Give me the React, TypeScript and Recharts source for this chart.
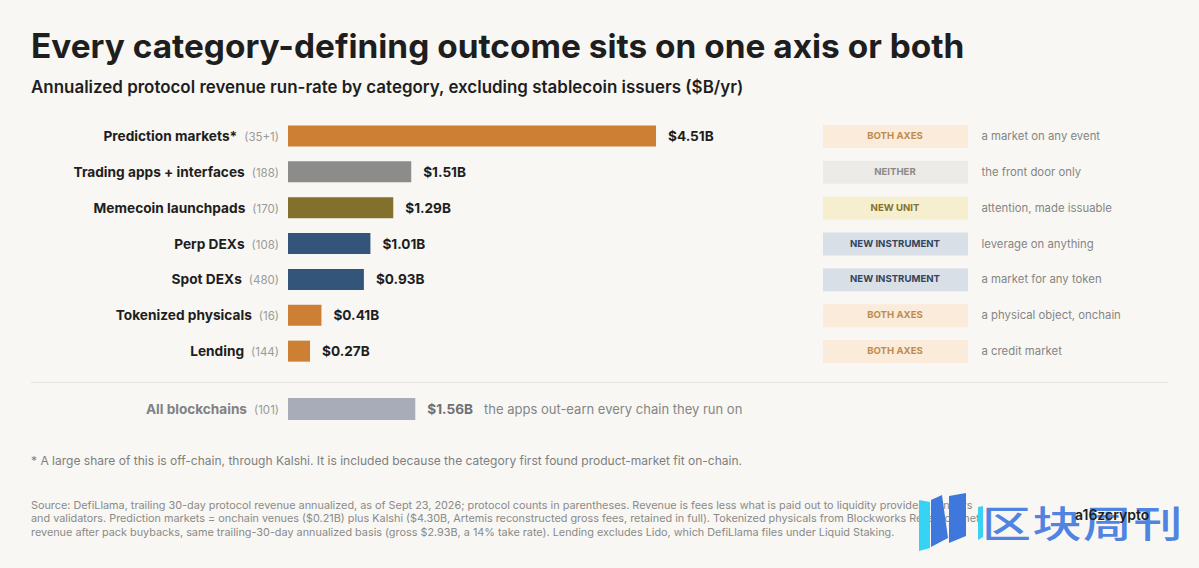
import { BarChart, Bar, XAxis, YAxis, Cell, LabelList } from "recharts";

const categories = ["Prediction markets*", "Trading apps + interfaces", "Memecoin launchpads", "Perp DEXs", "Spot DEXs", "Tokenized physicals", "Lending"];
const counts = ["(35+1)", "(188)", "(170)", "(108)", "(480)", "(16)", "(144)"];
const revenue = [4.51, 1.51, 1.29, 1.01, 0.93, 0.41, 0.27];
const groups = ["BOTH AXES", "NEITHER", "NEW UNIT", "NEW INSTRUMENT", "NEW INSTRUMENT", "BOTH AXES", "BOTH AXES"];
const notes = ["a market on any event", "the front door only", "attention, made issuable", "leverage on anything", "a market for any token", "a physical object, onchain", "a credit market"];

const chainCategory = ["All blockchains"];
const chainCounts = ["(101)"];
const chainRevenue = [1.56];

const sourceLines = [
  "Source: DefiLlama, trailing 30-day protocol revenue annualized, as of Sept 23, 2026; protocol counts in parentheses. Revenue is fees less what is paid out to liquidity providers, lenders",
  "and validators. Prediction markets = onchain venues ($0.21B) plus Kalshi ($4.30B, Artemis reconstructed gross fees, retained in full). Tokenized physicals from Blockworks Research, net",
  "revenue after pack buybacks, same trailing-30-day annualized basis (gross $2.93B, a 14% take rate). Lending excludes Lido, which DefiLlama files under Liquid Staking.",
];

const groupStyles: Record<string, { bar: string; bg: string; text: string }> = {
  "BOTH AXES": { bar: "#CD7F34", bg: "#FAEBDA", text: "#C08C4E" },
  NEITHER: { bar: "#8C8C8A", bg: "#ECEBE8", text: "#8A8A88" },
  "NEW UNIT": { bar: "#83702C", bg: "#F6EFCF", text: "#85722C" },
  "NEW INSTRUMENT": { bar: "#34557A", bg: "#D9DFE6", text: "#33445C" },
};

const font = "Inter, sans-serif";
const rows = categories.map((name, i) => ({ name, value: revenue[i] }));
const chainRows = chainCategory.map((name, i) => ({ name, value: chainRevenue[i] }));

function RowTick({ x, y, payload, index }: any) {
  const group = groups[index];
  const st = groupStyles[group];
  return (
    <g fontFamily={font}>
      <text x={x} y={y + 5} textAnchor="end">
        <tspan fontSize={13.7} fontWeight={700} fill="#1E1E1E">{payload.value}</tspan>
        <tspan dx={7} fontSize={11.5} fill="#9A9A98">{counts[index]}</tspan>
      </text>
      <rect x={823} y={y - 11} width={145} height={23} fill={st.bg} />
      <text x={895} y={y + 3} textAnchor="middle" fontSize={9.6} fontWeight={700} fill={st.text}>{group}</text>
      <text x={981.5} y={y + 4} fontSize={11.35} fill="#858583">{notes[index]}</text>
    </g>
  );
}

function ChainTick({ x, y, payload, index }: any) {
  return (
    <text x={x} y={y + 5} textAnchor="end" fontFamily={font}>
      <tspan fontSize={13.6} fontWeight={700} fill="#7F8285">{payload.value}</tspan>
      <tspan dx={7} fontSize={11.5} fill="#9A9A98">{chainCounts[index]}</tspan>
    </text>
  );
}

function ValueLabel({ x, y, width, height, value }: any) {
  return (
    <text x={x + width + 12} y={y + height / 2 + 5} fontFamily={font} fontSize={13.6} fontWeight={700} fill="#1E1E1E">
      {"$" + value.toFixed(2) + "B"}
    </text>
  );
}

function ChainLabel({ x, y, width, height, value }: any) {
  return (
    <text x={x + width + 12} y={y + height / 2 + 5} fontFamily={font}>
      <tspan fontSize={13.6} fontWeight={700} fill="#6F7174">{"$" + value.toFixed(2) + "B"}</tspan>
      <tspan x={484} fontSize={13} fill="#858583">the apps out-earn every chain they run on</tspan>
    </text>
  );
}

const abs = (left: number, top: number, extra: any) => ({
  position: "absolute" as const,
  left,
  top,
  whiteSpace: "nowrap" as const,
  fontFamily: font,
  ...extra,
});

export default function App() {
  return (
    <div style={{ position: "fixed", left: 0, top: 0, width: 1199, height: 568, background: "#F8F7F4", overflow: "hidden" }}>
      <div style={abs(31, 24, { fontSize: 33.4, lineHeight: "44px", fontWeight: 700, color: "#1E1E1E" })}>
        Every category-defining outcome sits on one axis or both
      </div>
      <div style={abs(31, 76, { fontSize: 16.95, lineHeight: "22px", fontWeight: 600, color: "#1E1E1E" })}>
        Annualized protocol revenue run-rate by category, excluding stablecoin issuers ($B/yr)
      </div>

      <div style={{ position: "absolute", left: 0, top: 118 }}>
        <BarChart layout="vertical" width={1199} height={251} data={rows} barCategoryGap={7.5} margin={{ top: 0, right: 503, bottom: 0, left: 0 }}>
          <XAxis type="number" domain={[0, 5]} hide />
          <YAxis type="category" dataKey="name" width={288} axisLine={false} tickLine={false} tickMargin={3} interval={0} tick={RowTick} />
          <Bar dataKey="value" isAnimationActive={false}>
            {rows.map((r, i) => (
              <Cell key={r.name} fill={groupStyles[groups[i]].bar} />
            ))}
            <LabelList dataKey="value" content={ValueLabel} />
          </Bar>
        </BarChart>
      </div>

      <div style={{ position: "absolute", left: 31, top: 382, width: 1137, height: 1, background: "#E6E4DF" }} />

      <div style={{ position: "absolute", left: 0, top: 391 }}>
        <BarChart layout="vertical" width={1199} height={36} data={chainRows} barCategoryGap={7} margin={{ top: 0, right: 503, bottom: 0, left: 0 }}>
          <XAxis type="number" domain={[0, 5]} hide />
          <YAxis type="category" dataKey="name" width={288} axisLine={false} tickLine={false} tickMargin={3} interval={0} tick={ChainTick} />
          <Bar dataKey="value" fill="#A7ACB8" isAnimationActive={false}>
            <LabelList dataKey="value" content={ChainLabel} />
          </Bar>
        </BarChart>
      </div>

      <div style={abs(31, 453, { fontSize: 12.03, lineHeight: "16px", color: "#7F7F7D" })}>
        * A large share of this is off-chain, through Kalshi. It is included because the category first found product-market fit on-chain.
      </div>
      {sourceLines.map((line, i) => (
        <div key={i} style={abs(31, 499 + i * 13.3, { fontSize: 10.85, lineHeight: "13px", color: "#8A8A88" })}>
          {line}
        </div>
      ))}

      <svg width={70} height={70} style={{ position: "absolute", left: 915, top: 488 }}>
        <polygon points="4,12 15,14 15,60 4,63" fill="#36D3F5" />
        <polygon points="16,12 27,7 33,50 16,59" fill="#3F78DC" />
        <polygon points="34,8 51,5 51,48 34,55" fill="#3F78DC" />
        <polygon points="63,19 68,18 68,49 63,52" fill="#36D3F5" />
      </svg>
      <div style={abs(982, 492, { fontSize: 49, lineHeight: "60px", fontWeight: 500, letterSpacing: 1.5, color: "rgba(70,125,224,0.95)", fontFamily: '"Noto Sans CJK SC", sans-serif', transform: "scaleY(0.76)" })}>
        区块周刊
      </div>
      <div style={abs(1075, 507, { fontSize: 14, lineHeight: "16px", fontWeight: 600, color: "#1E1E1E" })}>a16zcrypto</div>
    </div>
  );
}
